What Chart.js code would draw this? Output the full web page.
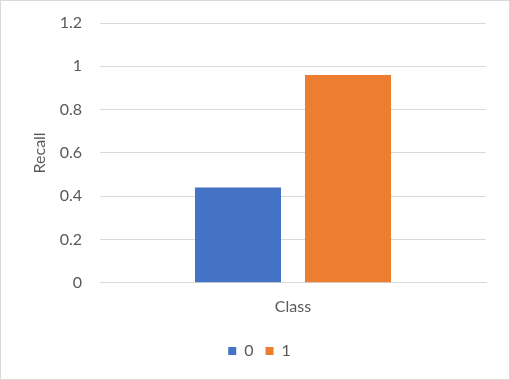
<!DOCTYPE html>
<html><head><meta charset="utf-8">
<script src="https://cdn.jsdelivr.net/npm/chart.js@4"></script>
<style>
html,body{margin:0;padding:0;background:#fff;}
#wrap{width:510px;height:380px;box-sizing:border-box;border:1px solid #d9d9d9;background:#fff;}
#wrap canvas{display:block;}
</style></head>
<body><div id="wrap"><canvas id="c" width="508" height="378"></canvas></div>
<script>
const categories = ["Class"];
const seriesNames = ["0", "1"];
const series0 = [0.44];
const series1 = [0.96];
const yTicks = [0, 0.2, 0.4, 0.6, 0.8, 1, 1.2];
const colors = ["#4472C4", "#ED7D31"];

const font = {family: "Lato, 'Open Sans', sans-serif", size: 16};
const legendShift = {
  id: 'legendShift',
  afterLayout(chart) {
    const lg = chart.legend;
    if (lg) { lg.left += 32; lg.top += 1; lg.bottom += 1; }
  }
};
new Chart(document.getElementById('c'), {
  type: 'bar',
  plugins: [legendShift],
  data: {
    labels: categories,
    datasets: [
      {label: seriesNames[0], data: series0, backgroundColor: colors[0], borderWidth: 0, categoryPercentage: 0.57, barPercentage: 0.782},
      {label: seriesNames[1], data: series1, backgroundColor: colors[1], borderWidth: 0, categoryPercentage: 0.57, barPercentage: 0.782}
    ]
  },
  options: {
    responsive: false,
    animation: false,
    devicePixelRatio: 1,
    layout: {padding: {left: 0, right: 23, top: 22, bottom: 11}},
    plugins: {
      tooltip: {enabled: false},
      legend: {
        position: 'bottom',
        labels: {usePointStyle: true, pointStyle: 'rect', boxWidth: 8, boxHeight: 8, color: '#595959', font: font, padding: 12}
      }
    },
    scales: {
      x: {
        grid: {display: false, drawTicks: false},
        border: {display: true, color: '#d9d9d9', width: 1},
        ticks: {color: '#595959', font: font, padding: 14}
      },
      y: {
        min: 0, max: 1.2,
        afterBuildTicks: (s) => { s.ticks = yTicks.map(v => ({value: v})); },
        afterFit: (s) => { s.width = 99; s.paddingTop = 10; s.paddingBottom = 10; },
        grid: {color: '#d9d9d9', lineWidth: 1, drawTicks: false},
        border: {display: false},
        ticks: {color: '#595959', font: font, padding: 18, callback: v => String(v)},
        title: {display: true, text: 'Recall', color: '#595959', font: font, padding: {top: 29, bottom: 0}}
      }
    }
  }
});
</script></body></html>
